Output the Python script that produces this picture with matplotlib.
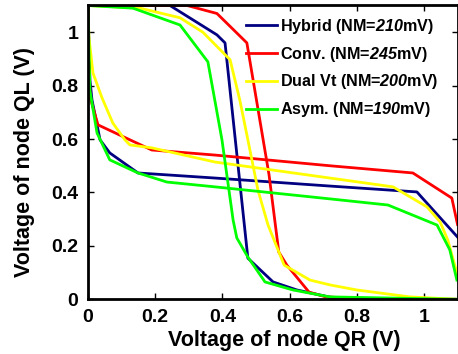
import matplotlib
matplotlib.use("Agg")
import matplotlib.pyplot as plt

plt.rcParams["font.family"] = ["Liberation Sans", "DejaVu Sans"]
plt.rcParams["font.weight"] = "bold"
plt.rcParams["mathtext.fontset"] = "custom"
# the NM values are drawn in bold italic
plt.rcParams["mathtext.rm"] = "Liberation Sans:bold:italic"
plt.rcParams["mathtext.it"] = "Liberation Sans:bold:italic"

# butterfly curves: curve 1 = QL(QR), curve 2 = mirrored curve
hyb_x1 = [0, 0.244, 0.384, 0.408, 0.476, 0.551, 0.622, 0.72, 0.81, 1.1]
hyb_y1 = [1.1, 1.1, 0.99, 0.96, 0.154, 0.065, 0.035, 0.008, 0.0, 0.0]
hyb_x2 = [0, 0.006, 0.012, 0.036, 0.065, 0.149, 0.378, 0.72, 0.979, 1.1]
hyb_y2 = [1.1, 0.82, 0.747, 0.597, 0.548, 0.473, 0.454, 0.424, 0.402, 0.233]

conv_x1 = [0, 0.295, 0.384, 0.473, 0.539, 0.568, 0.592, 0.658, 0.708, 0.87, 1.1]
conv_y1 = [1.1, 1.1, 1.07, 0.96, 0.466, 0.177, 0.128, 0.027, 0.009, 0.0, 0.0]
conv_x2 = [0, 0.006, 0.03, 0.125, 0.19, 0.378, 0.72, 0.967, 1.083, 1.1]
conv_y2 = [1.1, 0.757, 0.653, 0.597, 0.559, 0.54, 0.5, 0.473, 0.379, 0.28]

dual_x1 = [0, 0.155, 0.274, 0.342, 0.423, 0.452, 0.476, 0.506, 0.536, 0.584, 0.661, 0.72, 0.8, 0.958, 1.1]
dual_y1 = [1.1, 1.09, 1.054, 1.0, 0.897, 0.746, 0.597, 0.409, 0.278, 0.128, 0.072, 0.054, 0.035, 0.009, 0.0]
dual_x2 = [0, 0.003, 0.015, 0.042, 0.074, 0.11, 0.125, 0.19, 0.378, 0.72, 0.908, 1.009, 1.048, 1.071, 1.1]
dual_y2 = [1.1, 0.98, 0.847, 0.754, 0.66, 0.597, 0.578, 0.567, 0.514, 0.454, 0.421, 0.346, 0.29, 0.222, 0.09]

asym_x1 = [0, 0.134, 0.274, 0.357, 0.399, 0.432, 0.443, 0.476, 0.527, 0.61, 0.72, 1.1]
asym_y1 = [1.1, 1.09, 1.027, 0.889, 0.596, 0.297, 0.23, 0.158, 0.065, 0.035, 0.009, 0.0]
asym_x2 = [0, 0.006, 0.027, 0.065, 0.149, 0.235, 0.378, 0.72, 0.893, 1.039, 1.077, 1.098]
asym_y2 = [1.1, 0.78, 0.623, 0.522, 0.473, 0.439, 0.421, 0.376, 0.353, 0.278, 0.185, 0.072]

labels = [r"Hybrid (NM=$\mathrm{210}$mV)", r"Conv. (NM=$\mathrm{245}$mV)",
          r"Dual Vt (NM=$\mathrm{200}$mV)", r"Asym. (NM=$\mathrm{190}$mV)"]
colors = ["#000080", "#ff0000", "#ffff00", "#00ff00"]
tick_vals = [0, 0.2, 0.4, 0.6, 0.8, 1]
tick_labels = ["0", "0.2", "0.4", "0.6", "0.8", "1"]

fig = plt.figure(figsize=(4.58, 3.54), dpi=100)
ax = fig.add_axes([0.192, 0.1545, 0.807, 0.83])

curves = [(hyb_x1, hyb_y1, hyb_x2, hyb_y2),
          (conv_x1, conv_y1, conv_x2, conv_y2),
          (dual_x1, dual_y1, dual_x2, dual_y2),
          (asym_x1, asym_y1, asym_x2, asym_y2)]
handles = []
for (x1, y1, x2, y2), c, lab in zip(curves, colors, labels):
    h, = ax.plot(x1, y1, color=c, lw=2.0, label=lab)
    ax.plot(x2, y2, color=c, lw=2.0)
    handles.append(h)

ax.set_xlim(0, 1.1)
ax.set_ylim(0, 1.1)
ax.set_xticks(tick_vals)
ax.set_xticklabels(tick_labels)
ax.set_yticks(tick_vals)
ax.set_yticklabels(tick_labels)
ax.tick_params(direction="in", top=True, right=True, labelsize=14, length=4, width=1, pad=7)
for s in ax.spines.values():
    s.set_linewidth(2)

ax.set_xlabel("Voltage of node QR (V)", fontsize=15.5, fontweight="bold")
ax.set_ylabel("Voltage of node QL (V)", fontsize=15.5, fontweight="bold")
ax.xaxis.set_label_coords(0.532, -0.105)
ax.yaxis.set_label_coords(-0.143, 0.467)

ax.legend(handles=handles, loc="upper right", frameon=False, fontsize=11.6,
          handlelength=1.9, handletextpad=0.2, labelspacing=0.55,
          borderaxespad=0.3, bbox_to_anchor=(0.978, 1.0))

fig.savefig("out.png", dpi=100)
